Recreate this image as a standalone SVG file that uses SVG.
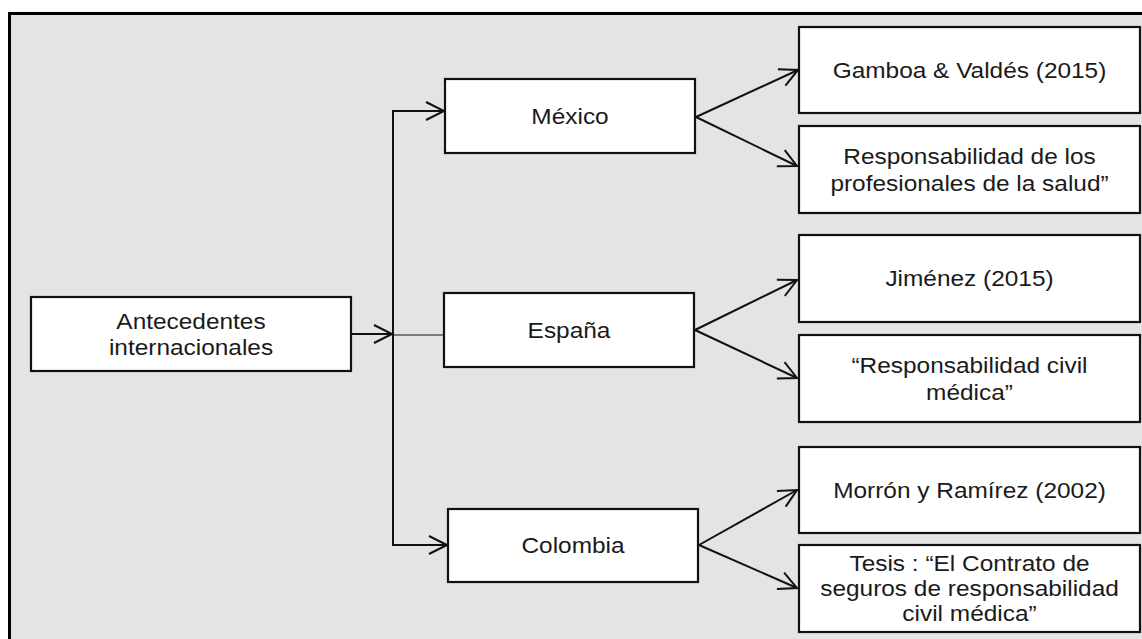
<svg xmlns="http://www.w3.org/2000/svg" width="1142" height="639" viewBox="0 0 1142 639">
  <style>
    .box { fill: #ffffff; stroke: #111111; stroke-width: 2.2; }
    .wire { fill: none; stroke: #111111; stroke-width: 2; }
    .thin { fill: none; stroke: #111111; stroke-width: 1.2; }
    .lbl { font-family: "Liberation Sans", Arial, sans-serif; font-size: 22px; fill: #1a1a1a; text-anchor: middle; }
  </style>
  <defs>
    <marker id="arrow" viewBox="-20 -12 24 24" refX="0" refY="0" markerWidth="24" markerHeight="24" markerUnits="userSpaceOnUse" orient="auto">
      <path d="M-18,-9 L0,0 L-18,9" fill="none" stroke="#111111" stroke-width="2"/>
    </marker>
  </defs>

  <!-- page background and frame -->
  <rect x="0" y="0" width="1142" height="639" fill="#ffffff"/>
  <rect x="9.5" y="13.5" width="1200" height="700" fill="#e4e4e4" stroke="#000000" stroke-width="3"/>

  <!-- connectors -->
  <g id="connectors">
    <line class="wire" x1="351" y1="334" x2="392" y2="334" marker-end="url(#arrow)"/>
    <line class="wire" x1="393" y1="110" x2="393" y2="546"/>
    <polyline class="wire" points="392,111 444,111" marker-end="url(#arrow)"/>
    <line class="thin" x1="393" y1="335" x2="444" y2="335"/>
    <polyline class="wire" points="392,545 447,545" marker-end="url(#arrow)"/>

    <line class="wire" x1="696" y1="117" x2="798" y2="70" marker-end="url(#arrow)"/>
    <line class="wire" x1="696" y1="117" x2="797" y2="166" marker-end="url(#arrow)"/>

    <line class="wire" x1="695" y1="330" x2="797" y2="280" marker-end="url(#arrow)"/>
    <line class="wire" x1="695" y1="330" x2="797" y2="378" marker-end="url(#arrow)"/>

    <line class="wire" x1="699" y1="545" x2="797" y2="490" marker-end="url(#arrow)"/>
    <line class="wire" x1="699" y1="545" x2="797" y2="588" marker-end="url(#arrow)"/>
  </g>

  <!-- root -->
  <g id="antecedentes">
    <rect class="box" x="31" y="297" width="320" height="74"/>
    <text class="lbl" transform="translate(191 0) scale(1.11 1)"><tspan x="0" y="329">Antecedentes</tspan><tspan x="0" y="355">internacionales</tspan></text>
  </g>

  <!-- countries -->
  <g id="mexico">
    <rect class="box" x="445" y="79" width="250" height="74"/>
    <text class="lbl" transform="translate(570 0) scale(1.11 1)" x="0" y="124">México</text>
  </g>
  <g id="espana">
    <rect class="box" x="444" y="293" width="250" height="74"/>
    <text class="lbl" transform="translate(569 0) scale(1.11 1)" x="0" y="338">España</text>
  </g>
  <g id="colombia">
    <rect class="box" x="448" y="509" width="250" height="73"/>
    <text class="lbl" transform="translate(573 0) scale(1.11 1)" x="0" y="553">Colombia</text>
  </g>

  <!-- references -->
  <g id="gamboa">
    <rect class="box" x="799" y="27" width="341" height="86"/>
    <text class="lbl" transform="translate(969.5 0) scale(1.11 1)" x="0" y="78">Gamboa &amp; Valdés (2015)</text>
  </g>
  <g id="mexico-tema">
    <rect class="box" x="799" y="126" width="341" height="87"/>
    <text class="lbl" transform="translate(969.5 0) scale(1.11 1)"><tspan x="0" y="164">Responsabilidad de los</tspan><tspan x="0" y="191">profesionales de la salud”</tspan></text>
  </g>
  <g id="jimenez">
    <rect class="box" x="799" y="235" width="341" height="87"/>
    <text class="lbl" transform="translate(969.5 0) scale(1.11 1)" x="0" y="286">Jiménez (2015)</text>
  </g>
  <g id="espana-tema">
    <rect class="box" x="799" y="335" width="341" height="87"/>
    <text class="lbl" transform="translate(969.5 0) scale(1.11 1)"><tspan x="0" y="373">“Responsabilidad civil</tspan><tspan x="0" y="400">médica”</tspan></text>
  </g>
  <g id="morron">
    <rect class="box" x="799" y="447" width="341" height="86"/>
    <text class="lbl" transform="translate(969.5 0) scale(1.11 1)" x="0" y="498">Morrón y Ramírez (2002)</text>
  </g>
  <g id="colombia-tema">
    <rect class="box" x="799" y="545" width="341" height="87"/>
    <text class="lbl" transform="translate(969.5 0) scale(1.11 1)"><tspan x="0" y="571">Tesis : “El Contrato de</tspan><tspan x="0" y="596">seguros de responsabilidad</tspan><tspan x="0" y="621">civil médica”</tspan></text>
  </g>
</svg>
